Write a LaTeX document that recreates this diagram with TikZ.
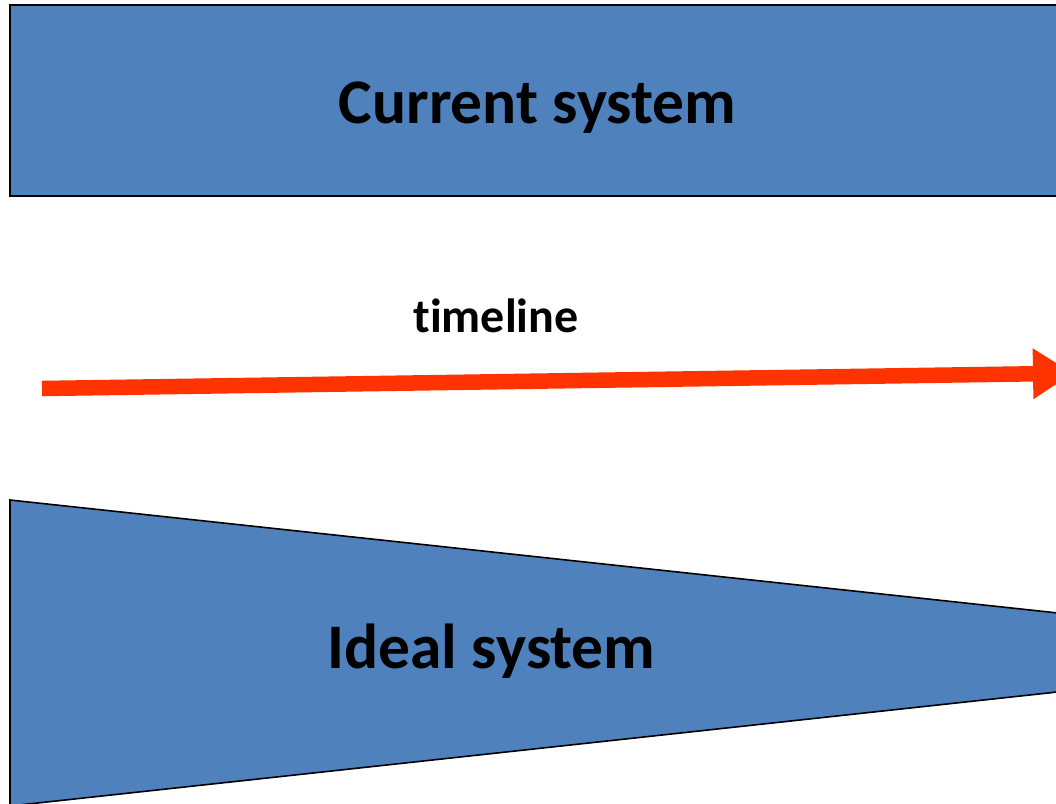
\documentclass[tikz,border=0pt]{standalone}
\usepackage{fontspec}
\setmainfont{Carlito}[Ligatures={NoCommon}]
\usetikzlibrary{arrows.meta}
\definecolor{boxblue}{HTML}{4F81BD}
\definecolor{arrowred}{HTML}{FF3300}
\tikzset{
  sysshape/.style={fill=boxblue, draw=black, line width=2pt},
  bigtext/.style={font=\bfseries\fontsize{63.5}{70}\selectfont, anchor=base, inner sep=0pt},
  smalltext/.style={font=\bfseries\fontsize{48}{56}\selectfont, anchor=base, inner sep=0pt},
  timearrow/.style={draw=arrowred, line width=15.5pt, -{Triangle[length=40pt,width=48pt]}}
}
\begin{document}
\begin{tikzpicture}[x=1pt,y=-1pt]
\useasboundingbox (0,0) rectangle (1056,803);
% current system box
\draw[sysshape] (1070,5) -- (10,5) -- (10,196) -- (1070,196);
\node[bigtext] (cur) at (537.5,123) {Current system};
% timeline
\node[smalltext] (tl) at (496,332) {timeline};
\coordinate (tstart) at (42,388.5);
\coordinate (tend) at (1073,373.2);
\draw[timearrow] (tstart) -- (tend);
% ideal system trapezoid
\draw[sysshape, line width=1.6pt] (1070,614.3) -- (10,500) -- (10,806) -- (1070,690.6);
\node[bigtext] (ideal) at (491.5,668) {Ideal system};
\end{tikzpicture}
\end{document}
